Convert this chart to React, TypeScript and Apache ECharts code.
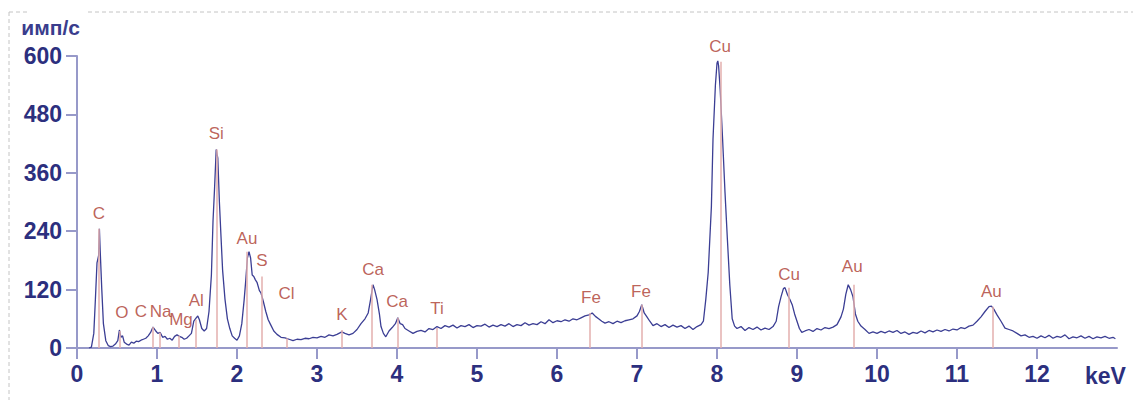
import React, { useEffect, useRef } from 'react';
import * as echarts from 'echarts';

// Spectrum: energy (keV) and intensity (имп/с)
const energyKeV = [
  0.15, 0.18, 0.21, 0.23, 0.25, 0.27, 0.28, 0.29, 0.31, 0.33,
  0.36, 0.39, 0.42, 0.45, 0.48, 0.51, 0.53, 0.55, 0.57, 0.59,
  0.62, 0.65, 0.68, 0.71, 0.74, 0.77, 0.80, 0.83, 0.86, 0.89,
  0.92, 0.95, 0.98, 1.01, 1.04, 1.07, 1.10, 1.13, 1.16, 1.19,
  1.22, 1.25, 1.28, 1.31, 1.34, 1.37, 1.40, 1.43, 1.46, 1.49,
  1.51, 1.53, 1.56, 1.59, 1.62, 1.65, 1.68, 1.70, 1.72, 1.74,
  1.76, 1.78, 1.80, 1.82, 1.85, 1.88, 1.91, 1.94, 1.97, 2.00,
  2.03, 2.06, 2.09, 2.11, 2.13, 2.15, 2.17, 2.19, 2.21, 2.23,
  2.25, 2.28, 2.30, 2.33, 2.36, 2.39, 2.42, 2.46, 2.50, 2.55,
  2.60, 2.65, 2.70, 2.75, 2.80, 2.85, 2.90, 2.95, 3.00, 3.05,
  3.10, 3.15, 3.20, 3.25, 3.31, 3.35, 3.40, 3.45, 3.50, 3.55,
  3.60, 3.64, 3.67, 3.70, 3.72, 3.75, 3.78, 3.80, 3.83, 3.86,
  3.90, 3.94, 3.98, 4.01, 4.04, 4.07, 4.10, 4.15, 4.20, 4.25,
  4.30, 4.35, 4.40, 4.45, 4.50, 4.55, 4.60, 4.65, 4.70, 4.75,
  4.80, 4.85, 4.90, 4.95, 5.00, 5.05, 5.10, 5.15, 5.20, 5.25,
  5.30, 5.35, 5.40, 5.45, 5.50, 5.55, 5.60, 5.65, 5.70, 5.75,
  5.80, 5.85, 5.90, 5.95, 6.00, 6.05, 6.10, 6.15, 6.20, 6.25,
  6.30, 6.35, 6.40, 6.44, 6.48, 6.52, 6.56, 6.60, 6.65, 6.70,
  6.75, 6.80, 6.85, 6.90, 6.95, 7.00, 7.03, 7.06, 7.09, 7.12,
  7.16, 7.20, 7.25, 7.30, 7.35, 7.40, 7.45, 7.50, 7.55, 7.60,
  7.65, 7.70, 7.75, 7.80, 7.83, 7.86, 7.89, 7.93, 7.95, 7.98,
  8.00, 8.01, 8.02, 8.04, 8.07, 8.10, 8.13, 8.16, 8.19, 8.22,
  8.25, 8.30, 8.35, 8.40, 8.45, 8.50, 8.55, 8.60, 8.65, 8.70,
  8.74, 8.77, 8.80, 8.83, 8.85, 8.88, 8.91, 8.94, 8.97, 9.00,
  9.03, 9.06, 9.10, 9.15, 9.20, 9.25, 9.30, 9.35, 9.40, 9.45,
  9.50, 9.55, 9.58, 9.61, 9.64, 9.67, 9.70, 9.73, 9.76, 9.80,
  9.85, 9.90, 9.95, 10.00, 10.05, 10.10, 10.15, 10.20, 10.25, 10.30,
  10.35, 10.40, 10.45, 10.50, 10.55, 10.60, 10.65, 10.70, 10.75, 10.80,
  10.85, 10.90, 10.95, 11.00, 11.05, 11.10, 11.15, 11.20, 11.25, 11.30,
  11.35, 11.40, 11.43, 11.46, 11.50, 11.55, 11.60, 11.65, 11.70, 11.75,
  11.80, 11.85, 11.90, 11.95, 12.00, 12.05, 12.10, 12.15, 12.20, 12.25,
  12.30, 12.35, 12.40, 12.45, 12.50, 12.55, 12.60, 12.65, 12.70, 12.75,
  12.80, 12.85, 12.90, 12.95, 12.98,
];
const countsPerSec = [
  0, 2, 30, 100, 175, 190, 245, 200, 120, 50,
  15, 5, 3, 4, 8, 15, 37, 22, 25, 12,
  8, 6, 12, 10, 14, 13, 16, 18, 20, 25,
  32, 43, 36, 30, 32, 22, 24, 18, 20, 16,
  24, 27, 24, 22, 18, 20, 25, 30, 55, 62,
  66, 58, 40, 35, 40, 75, 150, 260, 330, 408,
  390, 300, 229, 160, 100, 60, 40, 25, 20, 16,
  25, 50, 100, 140, 185, 198, 185, 150, 147, 140,
  135, 118, 113, 95, 75, 58, 48, 35, 28, 22,
  21, 18, 15, 18, 17, 20, 19, 22, 21, 24,
  22, 27, 25, 28, 33, 30, 27, 30, 38, 50,
  60, 72, 100, 130, 120, 100, 70, 44, 30, 23,
  35, 42, 50, 62, 50, 48, 40, 35, 30, 34,
  36, 33, 40, 38, 44, 40, 46, 43, 47, 41,
  46, 44, 48, 42, 46, 45, 49, 43, 47, 44,
  48, 45, 50, 44, 48, 46, 52, 47, 50, 48,
  54, 50, 58, 52, 56, 54, 58, 55, 60, 58,
  62, 66, 68, 72, 65, 60, 55, 51, 54, 50,
  55, 52, 56, 58, 60, 66, 75, 89, 72, 65,
  55, 46, 50, 44, 48, 42, 47, 43, 46, 40,
  45, 38, 44, 48, 55, 100, 155, 291, 429, 540,
  585, 590, 580, 530, 429, 320, 223, 130, 60, 45,
  40, 44, 36, 42, 38, 43, 37, 41, 38, 44,
  55, 85, 105, 122, 124, 110, 100, 89, 70, 55,
  40, 32, 35, 38, 34, 40, 37, 42, 40, 43,
  48, 64, 80, 110, 130, 120, 105, 70, 55, 45,
  38, 30, 33, 30, 34, 31, 35, 32, 36, 30,
  33, 28, 32, 30, 35, 31, 36, 33, 37, 34,
  38, 35, 39, 37, 42, 40, 45, 47, 55, 64,
  75, 85, 86, 80, 68, 55, 41, 38, 35, 30,
  25, 27, 22, 24, 20, 25, 21, 26, 20, 24,
  22, 27, 19, 23, 21, 25, 20, 24, 19, 23,
  21, 24, 20, 22, 19,
];

// Element marker lines (energy, height)
const markerKeV = [0.277, 0.54, 0.95, 1.04, 1.27, 1.48, 1.75, 2.12, 2.31, 2.62, 3.31, 3.69, 4.01, 4.5, 6.41, 7.06, 8.05, 8.9, 9.71, 11.45];
const markerTop = [245, 35, 43, 32, 25, 58, 408, 198, 147, 20, 37, 130, 62, 41, 72, 89, 588, 124, 130, 85];

// Element labels
const labelTexts = ['C', 'O', 'C', 'Na', 'Mg', 'Al', 'Si', 'Au', 'S', 'Cl', 'K', 'Ca', 'Ca', 'Ti', 'Fe', 'Fe', 'Cu', 'Cu', 'Au', 'Au'];
const labelKeV = [0.275, 0.56, 0.80, 1.045, 1.30, 1.49, 1.74, 2.125, 2.31, 2.62, 3.31, 3.70, 4.00, 4.50, 6.425, 7.05, 8.04, 8.90, 9.69, 11.43];
const labelCounts = [277, 72, 74, 74, 58, 97, 440, 226, 179, 113, 68, 162, 95, 82, 103, 117, 620, 152, 168, 117];

// Axis ticks
const xTicks = [0, 1, 2, 3, 4, 5, 6, 7, 8, 9, 10, 11, 12];
const yTicks = [0, 120, 240, 360, 480, 600];

const AXIS_COLOR = '#9799c9';
const TICK_TEXT = '#2c2f7e';
const FONT = '"Liberation Sans", Arial, sans-serif';

export default function App() {
  const ref = useRef<HTMLDivElement>(null);
  useEffect(() => {
    const chart = echarts.init(ref.current!, null, { renderer: 'svg' });
    const spectrum = energyKeV.map((e, i) => [e, countsPerSec[i]]);
    const markers = markerKeV.map((e, i) => [{ coord: [e, 0] }, { coord: [e, markerTop[i]] }]);
    const labels = labelTexts.map((t, i) => ({ name: t, value: [labelKeV[i], labelCounts[i]] }));
    chart.setOption({
      animation: false,
      backgroundColor: '#ffffff',
      textStyle: { fontFamily: FONT },
      grid: { left: 77, right: 16, top: 56, bottom: 52, containLabel: false, outerBoundsMode: 'none' },
      graphic: [
        { type: 'line', shape: { x1: 9, y1: 12, x2: 28, y2: 12 }, style: { stroke: '#c4c4c4', lineWidth: 1, lineDash: [4, 3] }, silent: true },
        { type: 'line', shape: { x1: 88, y1: 12, x2: 1133, y2: 12 }, style: { stroke: '#c4c4c4', lineWidth: 1, lineDash: [4, 3] }, silent: true },
        { type: 'line', shape: { x1: 9, y1: 12, x2: 9, y2: 400 }, style: { stroke: '#c4c4c4', lineWidth: 1, lineDash: [4, 3] }, silent: true },
      ],
      xAxis: {
        type: 'value',
        min: 0,
        max: 13,
        interval: 1,
        name: 'keV',
        nameLocation: 'end',
        nameGap: -32,
        nameTextStyle: { color: TICK_TEXT, fontSize: 23, fontWeight: 'bold', fontFamily: FONT, align: 'left', verticalAlign: 'top', padding: [16, 0, 0, 0] },
        axisLine: { show: true, lineStyle: { color: AXIS_COLOR, width: 2 } },
        axisTick: { show: true, length: 11, lineStyle: { color: AXIS_COLOR, width: 2 }, customValues: xTicks },
        axisLabel: { color: TICK_TEXT, fontSize: 23, fontWeight: 'bold', fontFamily: FONT, margin: 14, customValues: xTicks },
        splitLine: { show: false },
      },
      yAxis: {
        type: 'value',
        min: 0,
        max: 600,
        interval: 120,
        name: 'имп/с',
        nameLocation: 'end',
        nameGap: 18,
        nameTextStyle: { color: '#3a3d8d', fontSize: 21, fontWeight: 'bold', fontFamily: FONT, align: 'right', padding: [0, -3, 0, 0] },
        axisLine: { show: true, lineStyle: { color: AXIS_COLOR, width: 2 } },
        axisTick: { show: true, length: 11, lineStyle: { color: AXIS_COLOR, width: 2 }, customValues: yTicks },
        axisLabel: { color: TICK_TEXT, fontSize: 23, fontWeight: 'bold', fontFamily: FONT, margin: 15, customValues: yTicks },
        splitLine: { show: false },
      },
      series: [
        {
          type: 'line',
          data: [],
          z: 1,
          silent: true,
          markLine: {
            silent: true,
            symbol: 'none',
            label: { show: false },
            lineStyle: { color: '#e3afae', width: 1.5, type: 'solid' },
            data: markers,
          },
        },
        {
          type: 'line',
          data: spectrum,
          z: 2,
          showSymbol: false,
          symbol: 'none',
          lineStyle: { color: '#3b3e94', width: 1.3 },
          silent: true,
        },
        {
          type: 'scatter',
          data: labels,
          z: 3,
          symbolSize: 0,
          clip: false,
          silent: true,
          label: {
            show: true,
            position: 'inside',
            formatter: '{b}',
            color: '#ab3a2f',
            fontSize: 17,
            fontFamily: FONT,
          },
        },
      ],
    });
    return () => chart.dispose();
  }, []);
  return <div ref={ref} style={{ position: 'absolute', left: 0, top: 0, width: 1133, height: 400, background: '#fff' }} />;
}
